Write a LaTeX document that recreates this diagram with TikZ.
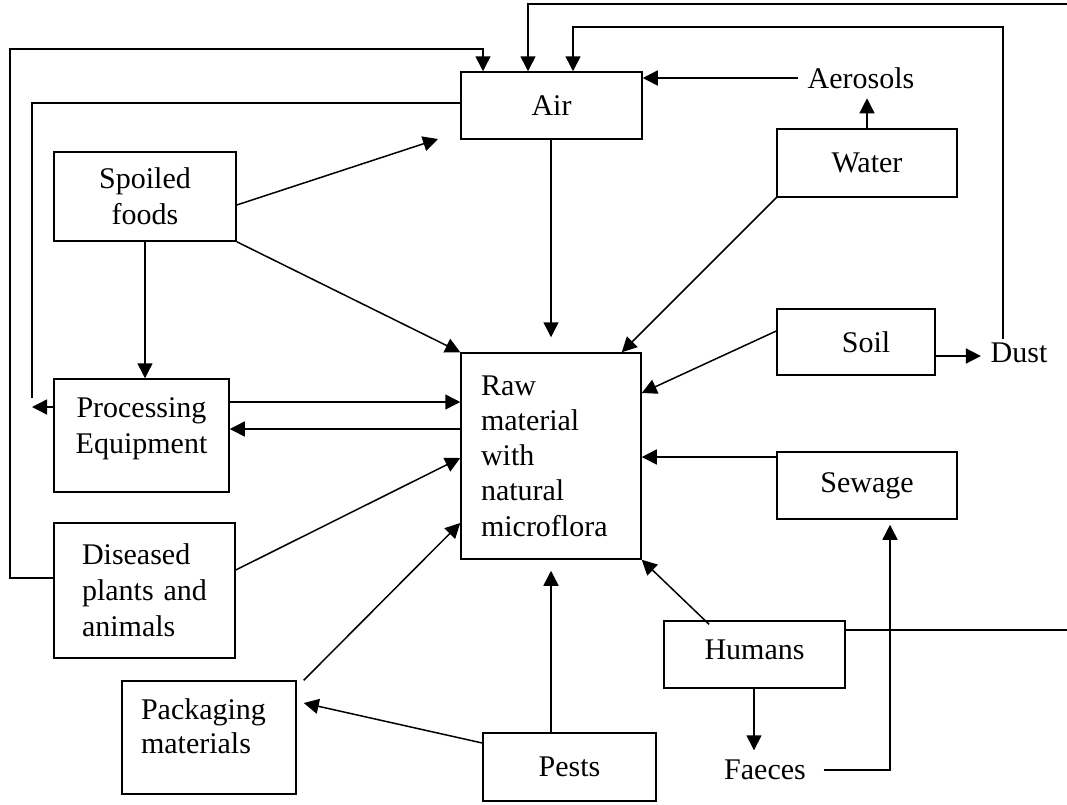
\documentclass[tikz,border=0pt]{standalone}
\usepackage{fontspec}
\setmainfont{Liberation Serif}
\usetikzlibrary{arrows.meta}

\begin{document}
\begin{tikzpicture}[x=1pt, y=-1pt, line width=1.5pt,
  font=\fontsize{30}{36}\selectfont,
  >={Triangle[length=15pt,width=15pt]},
  box/.style={draw, inner sep=0pt, align=center},
  lbox/.style={draw, inner ysep=0pt, align=left},
  word/.style={inner sep=9pt}]

\useasboundingbox (0,0) rectangle (1067,804);

\node[box, minimum width=181pt, minimum height=67pt] (air) at (551.5,105.5) {Air};
\node[box, minimum width=182pt, minimum height=89pt] (spoiled) at (145,196.5) {Spoiled\\foods};
\node[box, minimum width=180pt, minimum height=68pt] (water) at (867,163) {Water};
\node[box, minimum width=158pt, minimum height=66pt] (soil) at (856,342) {\hspace*{20pt}Soil};
\node[box, minimum width=175pt, minimum height=113pt] (proc) at (141.5,435.5) {Processing\\Equipment\\[-16pt]};
\node[lbox, inner xsep=20pt, text width=140pt, minimum height=206pt] (raw) at (551,456) {\fontsize{30}{35}\selectfont Raw\\material\\with\\natural\\microflora};
\node[box, minimum width=180pt, minimum height=67pt] (sewage) at (867,485.5) {Sewage};
\node[lbox, inner xsep=28pt, text width=125pt, minimum height=135pt] (diseased) at (144.5,590.5) {Diseased\\plants and\\animals};
\node[box, minimum width=181pt, minimum height=67pt] (humans) at (754.5,654.5) {Humans\\[-26pt]};
\node[lbox, inner xsep=19pt, text width=136pt, minimum height=113pt] (packaging) at (209,737.5) {\fontsize{30}{34}\selectfont Packaging\\materials\\[-14pt]\mbox{}};
\node[box, minimum width=173pt, minimum height=68pt] (pests) at (569.5,767) {Pests};
\node[word] (aerosols) at (861,78) {Aerosols};
\node[word] (dust) at (1019,353) {Dust};
\node[word] (faeces) at (765,770) {Faeces};

\coordinate (airnear) at (438,139);
\coordinate (dustup) at (1003,27);
\coordinate (rtop) at (1070,4);
\coordinate (rbot) at (1070,630);
\coordinate (lout) at (10,49);
\coordinate (lin) at (32,407);

\draw[->] ([yshift=-8.5pt]spoiled.east) -- (airnear);
\draw[->] (spoiled.south east) -- (raw.north west);
\draw[->] (spoiled.south) -- (spoiled.south |- proc.north);
\draw[->, shorten >=15pt] ([xshift=-0.5pt]air.south) -- ([xshift=-0.5pt]air.south |- raw.north);
\draw[->] (water.south west) -- ([xshift=-20pt]raw.north east);
\draw[->] (water.north) -- (water.north |- aerosols.south);
\draw[->] (aerosols.west) -- (aerosols.west -| air.east);
\draw[->] ([yshift=11pt]soil.west) -- ([yshift=63pt]raw.east);
\draw[->] ([yshift=-14pt]soil.east) -- ([yshift=-14pt]soil.east -| dust.west);
\draw[->] ([xshift=-16pt,yshift=-6pt]dust.north) -- (dustup) -| ([xshift=21.5pt]air.north);
\draw[->] (rtop) -| ([xshift=-23.5pt]air.north);
\draw (rbot) -- ([yshift=24.5pt]humans.east);
\draw[->] ([yshift=12.5pt]diseased.west) -| (lout) -| ([xshift=-68.5pt]air.north);
\draw ([yshift=2.5pt]air.west) -| ([yshift=9pt]lin);
\draw[->] ([yshift=28.5pt]proc.west) -- (lin);
\draw[->] ([yshift=33.5pt]proc.east) -- ([yshift=33.5pt]proc.east -| raw.west);
\draw[->] ([yshift=27pt]raw.west) -- ([yshift=27pt]raw.west -| proc.east);
\draw[->] ([yshift=20.5pt]diseased.east) -- ([yshift=-2pt]raw.west);
\draw[->] ([xshift=7pt]packaging.north east) -- ([yshift=-67pt]raw.west);
\draw[->] ([yshift=24pt]pests.west) -- ([xshift=7pt,yshift=34.5pt]packaging.east);
\draw[->, shorten >=11pt] ([xshift=-18.5pt]pests.north) -- ([xshift=-18.5pt]pests.north |- raw.south);
\draw[->] ([xshift=-45.5pt,yshift=-4pt]humans.north) -- (raw.south east);
\draw[->] ([xshift=-0.5pt]humans.south) -- ([xshift=-0.5pt]humans.south |- faeces.north);
\draw[->, shorten >=5pt] ([xshift=8pt]faeces.east) -| ([xshift=23pt]sewage.south);
\draw[->] ([yshift=28.5pt]sewage.west) -- ([yshift=28.5pt]sewage.west -| raw.east);

\end{tikzpicture}
\end{document}
